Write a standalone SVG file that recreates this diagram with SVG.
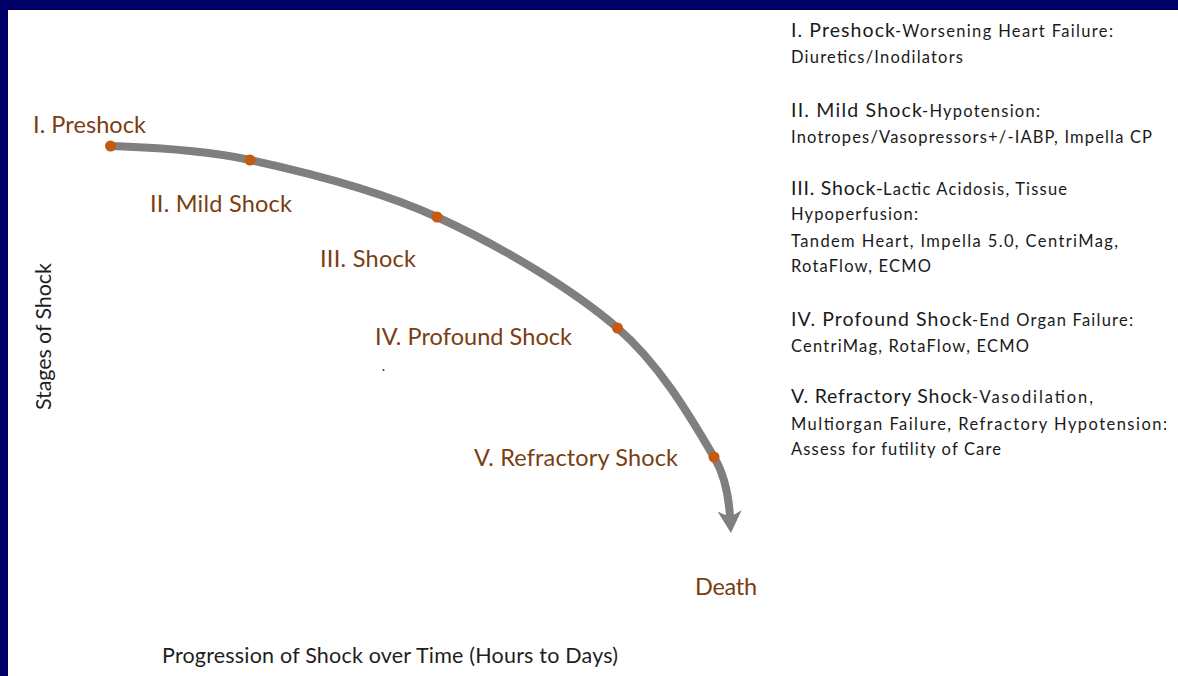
<svg xmlns="http://www.w3.org/2000/svg" width="1178" height="676" viewBox="0 0 1178 676">
<style>
.lbl{font-family:Lato,"Open Sans","Liberation Sans",sans-serif;font-size:23.5px;fill:#7b3d12}
.ax{font-family:Lato,"Open Sans","Liberation Sans",sans-serif;font-size:21.5px;fill:#1e1e1e}
.hd{font-family:Lato,"Open Sans","Liberation Sans",sans-serif;font-size:19.5px;fill:#1a1a1a}
.tx{font-family:Lato,"Open Sans","Liberation Sans",sans-serif;font-size:16.5px;fill:#1a1a1a}
.dot{fill:#c55a11}
.curve{fill:none;stroke:#7f7f7f;stroke-width:8}
</style>
<defs>
<marker id="arrow" markerUnits="userSpaceOnUse" viewBox="0 0 22 24" markerWidth="22" markerHeight="24" refX="6" refY="12" orient="auto">
<path d="M0,0 L22,12 L0,24 L6,12 Z" fill="#7f7f7f"/>
</marker>
</defs>
<rect x="0" y="0" width="1178" height="676" fill="#ffffff"/>
<rect x="0" y="0" width="1178" height="10" fill="#000066"/>
<rect x="0" y="0" width="8" height="676" fill="#000066"/>

<g id="connectors">
<path class="curve" marker-end="url(#arrow)" d="M110.5,146 C134,147 195.6,148.2 250,160 C304.4,171.8 375.75,189 437,217 C498.25,245 571.3,288 617.5,328 C663.7,368 695.4,426.2 714,457 C725,475.5 729,500 730,517"/>
</g>

<g id="stage1">
<circle class="dot" cx="110.5" cy="146" r="5.5"/>
<text class="lbl" x="33" y="133" textLength="113">I. Preshock</text>
</g>
<g id="stage2">
<circle class="dot" cx="250" cy="160" r="5.5"/>
<text class="lbl" x="150" y="212" textLength="142">II. Mild Shock</text>
</g>
<g id="stage3">
<circle class="dot" cx="437" cy="217" r="5.5"/>
<text class="lbl" x="320" y="267" textLength="96">III. Shock</text>
</g>
<g id="stage4">
<circle class="dot" cx="617.5" cy="328" r="5.5"/>
<text class="lbl" x="375" y="345" textLength="197">IV. Profound Shock</text>
</g>
<g id="stage5">
<circle class="dot" cx="714" cy="457" r="5.5"/>
<text class="lbl" x="474" y="466" textLength="204">V. Refractory Shock</text>
</g>
<g id="death">
<text class="lbl" x="695" y="595" textLength="62">Death</text>
</g>
<circle cx="383.5" cy="370" r="1" fill="#333"/>

<g id="axes">
<text class="ax" transform="translate(51,410) rotate(-90)" x="0" y="0" textLength="147">Stages of Shock</text>
<text class="ax" x="162" y="663" textLength="456">Progression of Shock over Time (Hours to Days)</text>
</g>

<g id="legend">
<text class="hd" x="791" y="37" textLength="104">I. Preshock</text>
<text class="tx" x="895" y="37" textLength="218">-Worsening Heart Failure:</text>
<text class="tx" x="791" y="63" textLength="172">Diuretics/Inodilators</text>

<text class="hd" x="791" y="117" textLength="131">II. Mild Shock</text>
<text class="tx" x="922" y="117" textLength="118">-Hypotension:</text>
<text class="tx" x="791" y="143" textLength="361">Inotropes/Vasopressors+/-IABP,  Impella CP</text>

<text class="hd" x="791" y="195" textLength="92">III. Shock-</text>
<text class="tx" x="883" y="195" textLength="184">Lactic Acidosis, Tissue</text>
<text class="tx" x="791" y="220" textLength="127">Hypoperfusion:</text>
<text class="tx" x="791" y="247" textLength="327">Tandem Heart, Impella 5.0, CentriMag,</text>
<text class="tx" x="791" y="272" textLength="140">RotaFlow, ECMO</text>

<text class="hd" x="791" y="326" textLength="181">IV. Profound Shock</text>
<text class="tx" x="972" y="326" textLength="161">-End Organ Failure:</text>
<text class="tx" x="791" y="352" textLength="238">CentriMag, RotaFlow, ECMO</text>

<text class="hd" x="791" y="403" textLength="181">V. Refractory Shock</text>
<text class="tx" x="972" y="403" textLength="121">-Vasodilation,</text>
<text class="tx" x="791" y="430" textLength="376">Multiorgan Failure, Refractory Hypotension:</text>
<text class="tx" x="791" y="455" textLength="210">Assess for futility of Care</text>
</g>
</svg>
